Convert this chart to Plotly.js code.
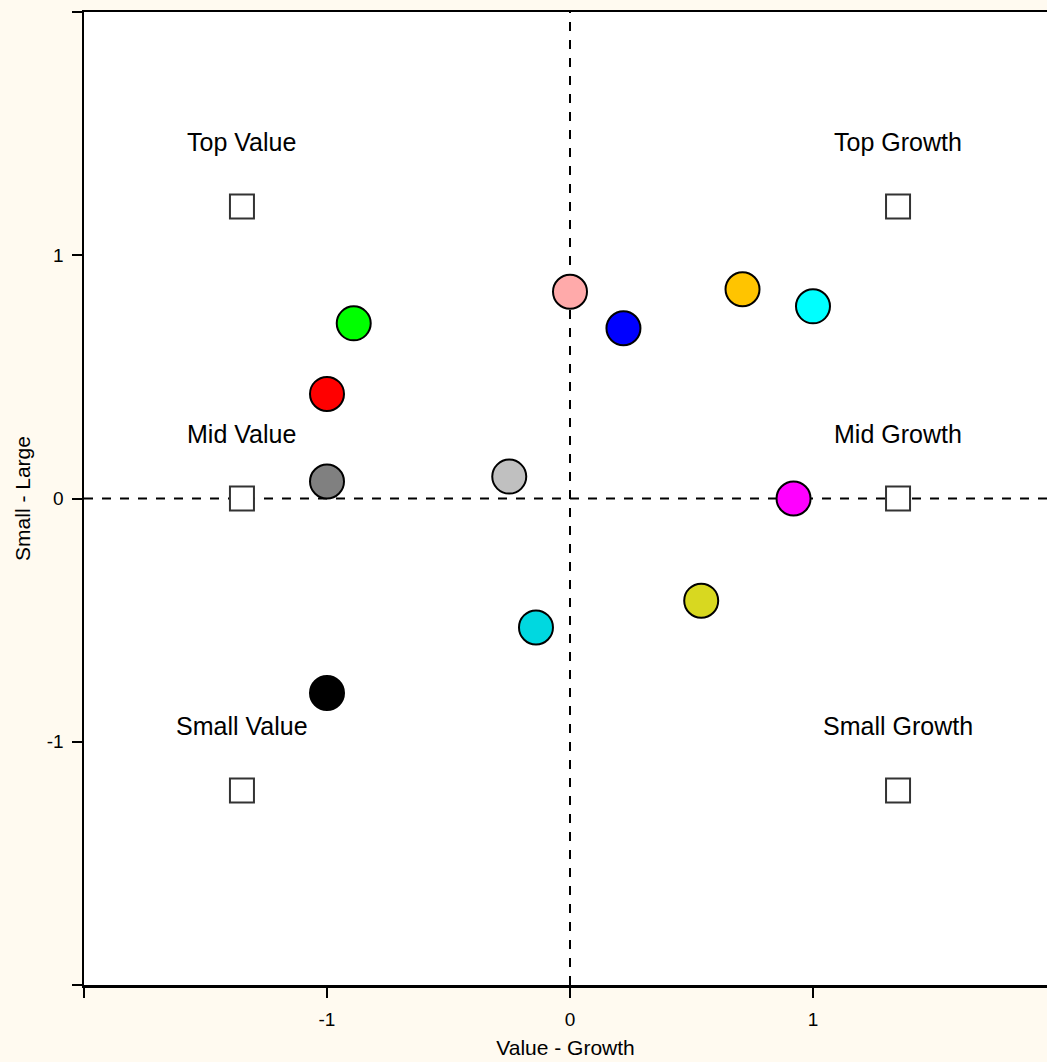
<!DOCTYPE html>
<html>
<head>
<meta charset="utf-8">
<script src="https://cdn.plot.ly/plotly-3.0.1.min.js"></script>
<style>html,body{margin:0;padding:0;background:#FFFAF0;overflow:hidden}</style>
</head>
<body>
<div id="chart" style="width:1047px;height:1062px"></div>
<script>
// Style-box points (value-growth, small-large)
const pointX = [-0.89, -1.0, -1.0, -0.25, -1.0, -0.14, 0.0, 0.22, 0.71, 1.0, 0.92, 0.54];
const pointY = [0.72, 0.43, 0.07, 0.09, -0.80, -0.53, 0.85, 0.70, 0.86, 0.79, 0.0, -0.42];
const pointColors = ['#00FF00', '#FF0000', '#808080', '#C0C0C0', '#000000', '#00D8E0',
                     '#FFAAAA', '#0000FF', '#FFC400', '#00FFFF', '#FF00FF', '#D8D820'];

// Reference corners
const refX = [-1.35, -1.35, -1.35, 1.35, 1.35, 1.35];
const refY = [1.2, 0, -1.2, 1.2, 0, -1.2];
const labelText = ['Top Value', 'Mid Value', 'Small Value', 'Top Growth', 'Mid Growth', 'Small Growth'];
const labelY = [1.465, 0.265, -0.935, 1.465, 0.265, -0.935];

const tickVals = [-2, -1, 0, 1, 2];
const tickText = ['', '-1', '0', '1', ''];
const zeroLine = 0;

const font = '"Liberation Sans", Arial, sans-serif';

const traces = [
  {
    x: refX, y: refY, type: 'scatter', mode: 'markers', hoverinfo: 'skip',
    marker: {symbol: 'square', size: 24, color: '#FFFFFF', line: {color: '#333333', width: 2}}
  },
  {
    x: pointX, y: pointY, type: 'scatter', mode: 'markers',
    marker: {symbol: 'circle', size: 34, color: pointColors, line: {color: '#000000', width: 2}}
  }
];

const annotations = labelText.map((t, i) => ({
  x: refX[i], y: labelY[i], xref: 'x', yref: 'y', text: t, showarrow: false,
  font: {family: font, size: 25, color: '#000000'}, xanchor: 'center', yanchor: 'middle'
}));

const layout = {
  width: 1047, height: 1062,
  margin: {l: 84, r: 0, t: 12, b: 77},
  paper_bgcolor: '#FFFAF0', plot_bgcolor: '#FFFFFF',
  showlegend: false,
  font: {family: font, size: 19, color: '#000000'},
  xaxis: {
    range: [-2, 1.963], tickvals: tickVals, ticktext: tickText,
    showgrid: false, zeroline: false, showline: true, mirror: true,
    linecolor: '#000000', linewidth: 2.5, ticks: 'outside', ticklen: 10, tickwidth: 2, tickcolor: '#000000',
    tickfont: {family: font, size: 19}, ticklabelstandoff: 6,
    title: {text: 'Value - Growth', font: {family: font, size: 21}, standoff: 11}
  },
  yaxis: {
    range: [-2, 2], tickvals: tickVals, ticktext: tickText,
    showgrid: false, zeroline: false, showline: true, mirror: false,
    linecolor: '#000000', linewidth: 2.5, ticks: 'outside', ticklen: 10, tickwidth: 2, tickcolor: '#000000',
    tickfont: {family: font, size: 19}, ticklabelstandoff: 4,
    title: {text: 'Small - Large', font: {family: font, size: 21}, standoff: 11}
  },
  shapes: [
    {type: 'line', xref: 'x', yref: 'paper', x0: zeroLine, x1: zeroLine, y0: 0, y1: 1,
     line: {color: '#000000', width: 2, dash: 'dash'}, layer: 'below'},
    {type: 'line', xref: 'paper', yref: 'y', x0: 0, x1: 1, y0: zeroLine, y1: zeroLine,
     line: {color: '#000000', width: 2, dash: 'dash'}, layer: 'below'}
  ],
  annotations: annotations
};

Plotly.newPlot('chart', traces, layout, {displayModeBar: false, staticPlot: true});
</script>
</body>
</html>
